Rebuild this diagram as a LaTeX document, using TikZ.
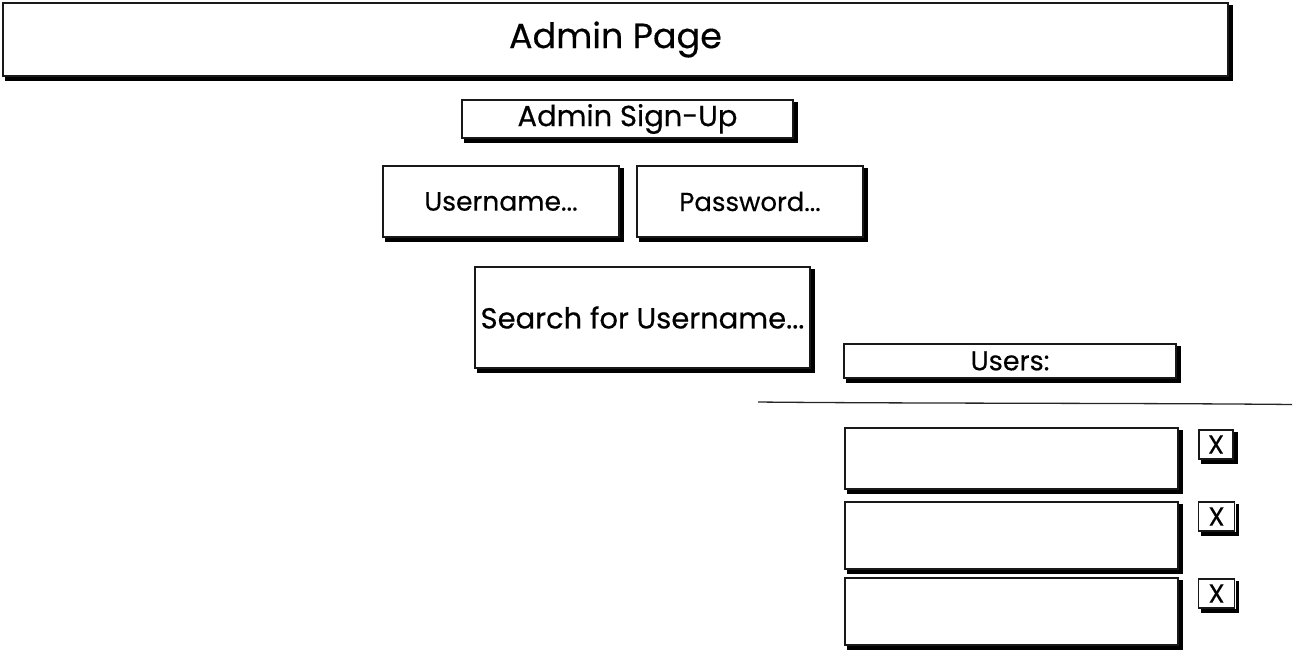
\documentclass[tikz,border=0pt]{standalone}
\usepackage{fontspec}
\setmainfont{Poppins}[BoldFont=Poppins, BoldFeatures={FakeBold=0.4}]
\begin{document}
\begin{tikzpicture}[x=1pt,y=-1pt,
  wf/.style={draw=black!90, line width=1.5pt, fill=white, inner sep=0pt, anchor=center, text=black},
  shadowl/.style={draw=black, line width=3.8pt, line join=miter},
  sepline/.style={draw=black!85, line width=1.3pt}]
\useasboundingbox (0,0) rectangle (1293,651);
\node[wf, minimum width=1225pt, minimum height=73pt, font=\fontsize{35}{40}\selectfont\bfseries] (title) at (615.5,39.5) {Admin Page};
\node[wf, minimum width=331pt, minimum height=38pt, font=\fontsize{29}{32}\selectfont\bfseries] (signup) at (627.5,119) {Admin Sign-Up};
\node[wf, minimum width=236pt, minimum height=71pt, font=\fontsize{26.5}{28}\selectfont\bfseries] (user) at (501,201.5) {Username...};
\node[wf, minimum width=226pt, minimum height=71pt, font=\fontsize{26}{28}\selectfont\bfseries] (pass) at (750,201.5) {Password...};
\node[wf, minimum width=335pt, minimum height=101pt, font=\fontsize{29}{32}\selectfont\bfseries] (search) at (642.5,317.5) {Search for Username...};
\node[wf, minimum width=332pt, minimum height=34pt, font=\fontsize{27}{28}\selectfont\bfseries] (users) at (1010,361) {Users:};
\node[wf, minimum width=333pt, minimum height=61pt] (list1) at (1011.5,458.5) {};
\node[wf, minimum width=333pt, minimum height=67pt] (list2) at (1011.5,535.5) {};
\node[wf, minimum width=333pt, minimum height=67pt] (list3) at (1011.5,611.5) {};
\node[wf, minimum width=34pt, minimum height=29pt, font=\fontsize{26}{26}\selectfont\bfseries] (x1) at (1216,444.5) {X};
\node[wf, minimum width=36pt, minimum height=29pt, font=\fontsize{26}{26}\selectfont\bfseries] (x2) at (1216.5,516.5) {X};
\node[wf, minimum width=36pt, minimum height=29pt, font=\fontsize{26}{26}\selectfont\bfseries] (x3) at (1216.5,593.5) {X};
\foreach \n in {title,signup,user,pass,search,users,list1,list2,list3,x1,x2,x3}
  \draw[shadowl] ([shift={(2.3pt,-3pt)}]\n.north east) -- ([shift={(2.3pt,-2.3pt)}]\n.south east) -- ([shift={(3pt,-2.3pt)}]\n.south west);
\coordinate (la) at (758,402);
\coordinate (lb) at (1292,404.5);
\draw[sepline] (la) .. controls (900,403.5) and (1150,403) .. (lb);
\end{tikzpicture}
\end{document}
